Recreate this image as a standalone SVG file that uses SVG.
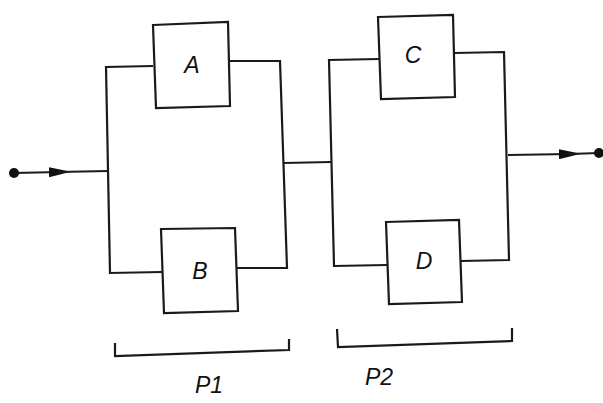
<svg xmlns="http://www.w3.org/2000/svg" width="603" height="403" viewBox="0 0 603 403">
<style>
.ln{fill:none;stroke:#1a1a1a;stroke-width:2.2;stroke-linejoin:miter}
.bx{fill:#fff;stroke:#1a1a1a;stroke-width:2.2}
.lb{font-family:"Liberation Sans",Arial,sans-serif;font-style:italic;font-size:23px;fill:#111;text-anchor:middle}
.dot{fill:#111}
</style>
<defs>
<marker id="ah" markerWidth="22" markerHeight="10" refX="11" refY="5" orient="auto" markerUnits="userSpaceOnUse">
<path d="M0,0 L22,5 L0,10 Z" fill="#111"/>
</marker>
</defs>
<rect width="603" height="403" fill="#fff"/>
<g id="connectors">
<path class="ln" d="M14,173 L60,172" marker-end="url(#ah)"/>
<path class="ln" d="M58,172 L108,171"/>
<path class="ln" d="M153,66 L106,67 L110,273 L162,272"/>
<path class="ln" d="M229,61 L280,61 L287,268 L237,268"/>
<path class="ln" d="M284,163 L331,162"/>
<path class="ln" d="M379,59 L329,60 L334,266 L387,265"/>
<path class="ln" d="M454,53 L504,52 L509,260 L461,261"/>
<path class="ln" d="M508,155 L570,154" marker-end="url(#ah)"/>
<path class="ln" d="M568,154 L600,153"/>
<path class="ln" d="M115,343 L115,356 L289,350 L289,339"/>
<path class="ln" d="M337,329 L338,347 L512,341 L512,328"/>
</g>
<circle class="dot" cx="14" cy="173" r="5"/>
<circle class="dot" cx="599" cy="153" r="5"/>
<g id="A">
<polygon class="bx" points="153,25 228,22 230,106 156,108"/>
<text class="lb" x="192" y="73">A</text>
</g>
<g id="B">
<polygon class="bx" points="161,229 235,228 238,311 164,313"/>
<text class="lb" x="200" y="279">B</text>
</g>
<g id="C">
<polygon class="bx" points="378,17 453,15 455,97 381,99"/>
<text class="lb" x="413" y="63">C</text>
</g>
<g id="D">
<polygon class="bx" points="386,222 459,220 462,302 389,304"/>
<text class="lb" x="424" y="269">D</text>
</g>
<g id="labels">
<text class="lb" x="209" y="393">P1</text>
<text class="lb" x="379" y="385">P2</text>
</g>
</svg>
